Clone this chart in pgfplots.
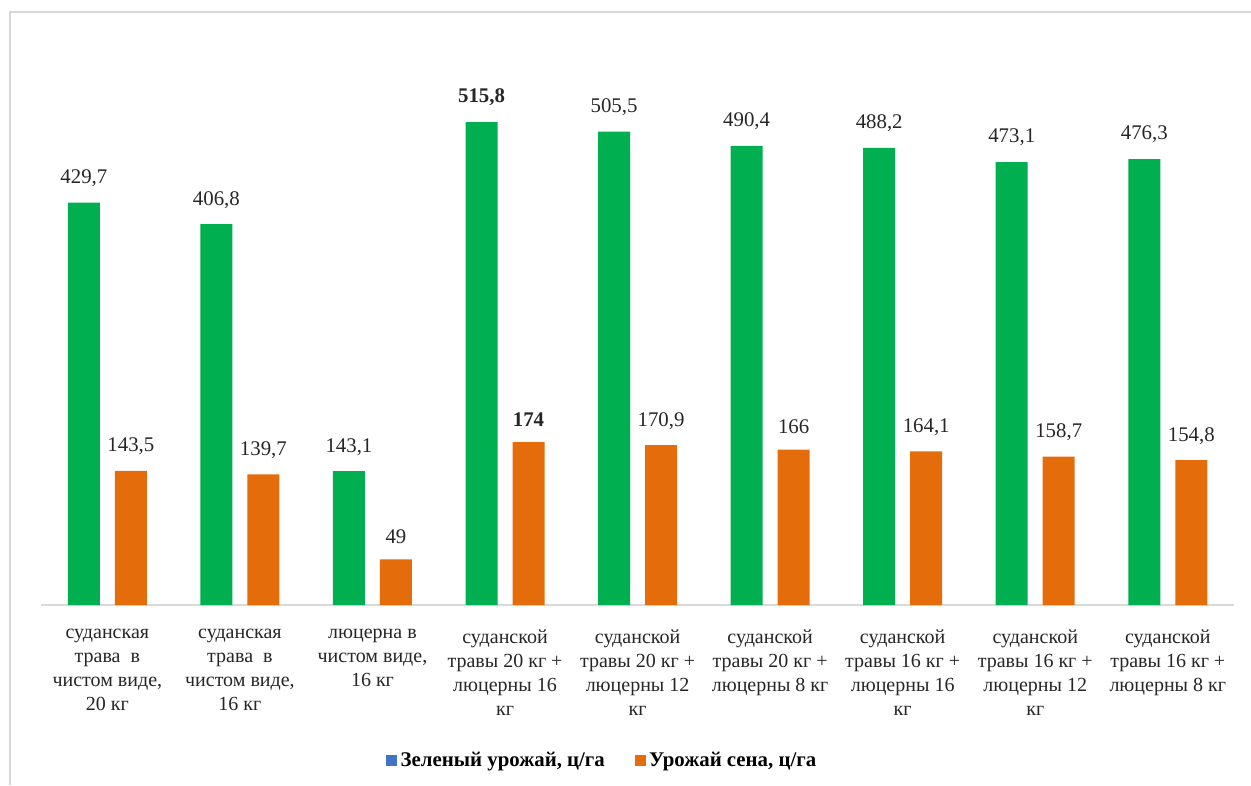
\documentclass[border=0pt]{standalone}
\usepackage{pgfplots}
\pgfplotsset{compat=1.18}
\usepackage{pgfplotstable}
\usepackage{fontspec}
\setmainfont{Liberation Serif}

\definecolor{barGreen}{RGB}{0,176,80}
\definecolor{barOrange}{RGB}{228,108,10}
\definecolor{legBlue}{RGB}{68,114,196}
\definecolor{frameGray}{RGB}{215,215,215}
\definecolor{baseGray}{RGB}{217,217,217}

% yields in c/ha: green mass (g) and hay (o), with their printed labels
\pgfplotstableread{
x g     gl              o     ol
0 429.7 429,7           143.5 143,5
1 406.8 406,8           139.7 139,7
2 143.1 143,1           49    49
3 515.8 {\bfseries 515,8} 174 {\bfseries 174}
4 505.5 505,5           170.9 170,9
5 490.4 490,4           166   166
6 488.2 488,2           164.1 164,1
7 473.1 473,1           158.7 158,7
8 476.3 476,3           154.8 154,8
}\yields

\begin{document}
\begin{tikzpicture}[x=0.6pt,y=0.6pt]
\path[use as bounding box] (0,0) rectangle (1251,785);
\begin{axis}[
  at={(31,192)}, anchor=south west,
  scale only axis,
  width=715.8pt, height=314.7pt,
  xmin=-0.5, xmax=8.5,
  ymin=0, ymax=560,
  axis y line=none,
  axis x line*=bottom,
  x axis line style={baseGray, line width=1pt, -},
  xtick={0,...,8},
  major tick length=0pt,
  xticklabels={
    {суданская\\трава~~в\\чистом виде,\\20 кг},
    {суданская\\трава~~в\\чистом виде,\\16 кг},
    {люцерна в\\чистом виде,\\16 кг},
    {суданской\\травы 20 кг +\\люцерны 16\\кг},
    {суданской\\травы 20 кг +\\люцерны 12\\кг},
    {суданской\\травы 20 кг +\\люцерны 8 кг},
    {суданской\\травы 16 кг +\\люцерны 16\\кг},
    {суданской\\травы 16 кг +\\люцерны 12\\кг},
    {суданской\\травы 16 кг +\\люцерны 8 кг}},
  xticklabel style={align=center, font=\fontsize{12}{14.4}\selectfont,
    text=black!85, anchor=north, yshift=-11pt},
  ybar, bar width=19.2pt,
  point meta=explicit symbolic,
  nodes near coords,
  nodes near coords style={font=\fontsize{12.5}{14}\selectfont,
    text=black!85, anchor=south, yshift=6pt},
  legend columns=2,
  legend style={at={(0.471,-0.297)}, anchor=center, draw=none,
    font=\fontsize{12.5}{14}\selectfont\bfseries,
    /tikz/every even column/.append style={column sep=16pt}},
]
\addplot[fill=barGreen, draw=none, bar shift=-14.1pt,
  legend image code/.code={\fill[legBlue] (0pt,-3.3pt) rectangle (6.6pt,3.3pt);}]
  table[x=x, y=g, meta=gl] {\yields};
\addlegendentry{Зеленый урожай, ц/га}
\addplot[fill=barOrange, draw=none, bar shift=14.1pt,
  legend image code/.code={\fill[barOrange] (0pt,-3.3pt) rectangle (6.6pt,3.3pt);}]
  table[x=x, y=o, meta=ol] {\yields};
\addlegendentry{Урожай сена, ц/га}
\end{axis}
% outer chart frame (top and left edges)
\draw[frameGray, line width=1.2pt] (10,0) -- (10,773) -- (1251,773);
\end{tikzpicture}
\end{document}
